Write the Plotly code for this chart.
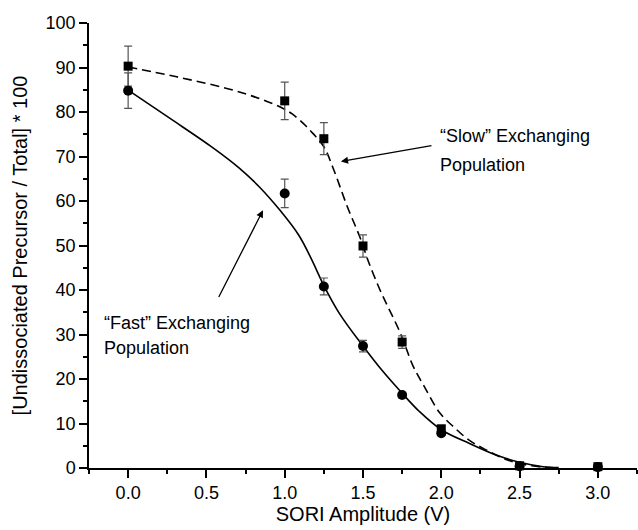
import plotly.graph_objects as go

# ---- data ----
sori_v = [0.0, 1.0, 1.25, 1.5, 1.75, 2.0, 2.5, 3.0]
slow_pct = [90.3, 82.5, 74.0, 49.9, 28.3, 8.8, 0.5, 0.3]
slow_err = [4.5, 4.2, 3.6, 2.5, 1.4, 0.8, 0.3, 0.2]
fast_pct = [84.8, 61.7, 40.8, 27.4, 16.4, 7.8, 0.4, 0.2]
fast_err = [4.0, 3.2, 1.9, 1.3, 0.6, 0.5, 0.2, 0.1]

fast_fit_x = [0.0, 0.27, 0.54, 0.71, 0.84, 0.97, 1.09, 1.17, 1.25, 1.35, 1.5, 1.62,
              1.75, 1.86, 2.0, 2.18, 2.35, 2.5, 2.65, 2.75]
fast_fit_y = [84.9, 78.5, 72.0, 67.4, 63.1, 57.9, 52.3, 47.0, 41.0, 34.7, 27.4, 22.0,
              16.8, 12.7, 8.6, 5.5, 2.9, 1.3, 0.3, 0.1]

slow_fit_x = [0.0, 0.31, 0.63, 0.84, 0.99, 1.05, 1.12, 1.18, 1.25, 1.31, 1.4, 1.48,
              1.54, 1.61, 1.65, 1.74, 1.82, 1.89, 1.99, 2.08, 2.18, 2.29, 2.4, 2.5,
              2.65, 2.75]
slow_fit_y = [90.1, 87.9, 85.3, 83.0, 80.8, 79.5, 77.4, 75.2, 72.2, 67.3, 58.7, 51.9,
              45.9, 39.9, 36.9, 30.2, 22.9, 18.4, 12.4, 9.2, 6.2, 4.0, 2.1, 1.0,
              0.2, 0.05]

x_ticks = [0.0, 0.5, 1.0, 1.5, 2.0, 2.5, 3.0]
x_tick_labels = ["0.0", "0.5", "1.0", "1.5", "2.0", "2.5", "3.0"]
y_ticks = [0, 10, 20, 30, 40, 50, 60, 70, 80, 90, 100]

x_title = "SORI Amplitude (V)"
y_title = "[Undissociated Precursor / Total] * 100"

slow_label = ["\u201cSlow\u201d Exchanging", "Population"]
fast_label = ["\u201cFast\u201d Exchanging", "Population"]
slow_label_pos = [(1.98, 74.6), (1.98, 68.2)]
fast_label_pos = [(-0.168, 32.6), (-0.168, 26.9)]
slow_arrow = {"tip": (1.359, 68.9), "tail": (1.947, 72.5)}
fast_arrow = {"tip": (0.861, 57.9), "tail": (0.574, 38.1)}

FONT = "Liberation Sans, Arial, Helvetica, sans-serif"

fig = go.Figure()

fig.add_trace(go.Scatter(
    x=fast_fit_x, y=fast_fit_y, mode="lines",
    line=dict(color="black", width=1.6, shape="spline", smoothing=1.0),
    hoverinfo="skip", showlegend=False))
fig.add_trace(go.Scatter(
    x=slow_fit_x, y=slow_fit_y, mode="lines",
    line=dict(color="black", width=1.6, dash="9px,5px", shape="spline", smoothing=1.0),
    hoverinfo="skip", showlegend=False))

fig.add_trace(go.Scatter(
    x=sori_v, y=slow_pct, mode="markers",
    marker=dict(symbol="square", size=9, color="black"),
    error_y=dict(type="data", array=slow_err, color="#555555", thickness=1.2, width=4),
    cliponaxis=False, showlegend=False))
fig.add_trace(go.Scatter(
    x=sori_v, y=fast_pct, mode="markers",
    marker=dict(symbol="circle", size=10, color="black"),
    error_y=dict(type="data", array=fast_err, color="#555555", thickness=1.2, width=4),
    cliponaxis=False, showlegend=False))

annotations = []
for arr in (slow_arrow, fast_arrow):
    annotations.append(dict(
        x=arr["tip"][0], y=arr["tip"][1], ax=arr["tail"][0], ay=arr["tail"][1],
        xref="x", yref="y", axref="x", ayref="y", text="", showarrow=True,
        arrowhead=2, arrowsize=1.1, arrowwidth=1.3, arrowcolor="black"))
for labels, poss in ((slow_label, slow_label_pos), (fast_label, fast_label_pos)):
    for t, (px, py) in zip(labels, poss):
        annotations.append(dict(
            x=px, y=py, xref="x", yref="y", text=t, showarrow=False,
            xanchor="left", yanchor="middle",
            font=dict(family=FONT, size=18, color="black")))

fig.update_layout(
    width=638, height=530,
    margin=dict(l=89, r=1, t=23, b=62),
    paper_bgcolor="white", plot_bgcolor="white",
    font=dict(family=FONT, color="black"),
    annotations=annotations,
    xaxis=dict(
        range=[-0.25, 3.25], tickmode="array", tickvals=x_ticks, ticktext=x_tick_labels,
        showgrid=False, zeroline=False, showline=True, linecolor="black", linewidth=1.5,
        ticks="outside", ticklen=8, tickwidth=1.5, tickcolor="black",
        minor=dict(tickmode="linear", tick0=-0.25, dtick=0.25, ticks="outside",
                   ticklen=4, tickwidth=1.5, tickcolor="black", showgrid=False),
        tickfont=dict(family=FONT, size=18, color="black"),
        title=dict(text=x_title, font=dict(family=FONT, size=20, color="black"), standoff=3),
        fixedrange=True),
    yaxis=dict(
        range=[0, 100], tickmode="array", tickvals=y_ticks,
        showgrid=False, zeroline=False, showline=True, linecolor="black", linewidth=1.5,
        ticks="outside", ticklen=8, tickwidth=1.5, tickcolor="black",
        minor=dict(tickmode="linear", tick0=5, dtick=10, ticks="outside",
                   ticklen=4, tickwidth=1.5, tickcolor="black", showgrid=False),
        tickfont=dict(family=FONT, size=18, color="black"),
        title=dict(text=y_title, font=dict(family=FONT, size=20, color="black"), standoff=13),
        fixedrange=True),
)

fig.write_html("out.html", config={"displayModeBar": False})
